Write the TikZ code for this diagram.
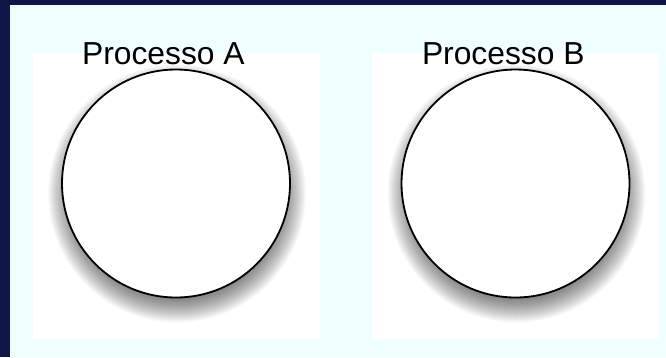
\documentclass[tikz,border=0pt]{standalone}
\usepackage{fontspec}
\setmainfont{Liberation Sans}
\definecolor{navyframe}{RGB}{14,22,72}
\definecolor{bgcyan}{RGB}{239,255,255}
\tikzset{
  panel/.style={fill=white, draw=none},
  proccircle/.style={circle, draw=black, line width=1.8pt, fill=white, minimum size=228pt, inner sep=0pt},
  proclabel/.style={anchor=base, inner sep=0pt, font=\fontsize{31.8}{38}\selectfont},
  softshadow/.style={fill=black, opacity=0.024, draw=none}
}
\begin{document}
\begin{tikzpicture}[x=1pt,y=-1pt]
\useasboundingbox (0,0) rectangle (666,357);
\fill[navyframe] (0,0) rectangle (666,357);
\fill[bgcyan] (10,5) rectangle (666,357);
% panels
\fill[panel] (33,53) rectangle (320,339);
\fill[panel] (372,53) rectangle (659,339);
% shadows
\foreach \cx in {176,515.5}{
  \foreach \r in {103,104,...,129}{
    \fill[softshadow] (\cx+1,193.5) circle[radius=\r];
  }
}
% circles
\node[proccircle] (circA) at (176,183.5) {};
\node[proccircle] (circB) at (515.5,183.5) {};
% labels
\node[proclabel] (labelA) at (163.4,64) {Processo A};
\node[proclabel] (labelB) at (503.3,64) {Processo B};
\end{tikzpicture}
\end{document}
